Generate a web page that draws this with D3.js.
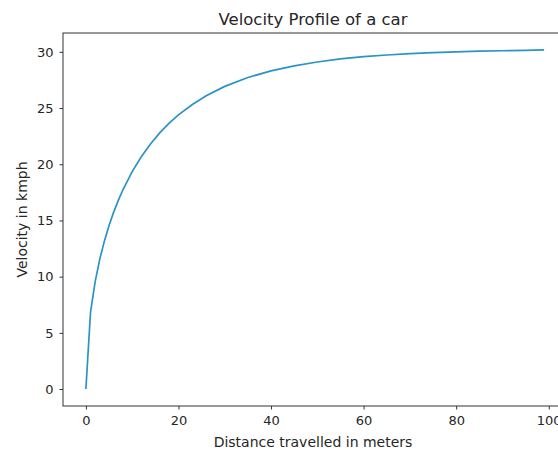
<!DOCTYPE html>
<html>
<head>
<meta charset="utf-8">
<script src="https://cdn.jsdelivr.net/npm/d3@7"></script>
<style>
	body { margin: 0; background: #fff; }
	text { font-family: "DejaVu Sans", sans-serif; fill: #262626; }
	.axis path, .axis line { stroke: #333; }
</style>
</head>
<body>
<div id="chart"></div>
<script>
// distance travelled (m) and velocity (kmph)
var distance = [0, 1, 2, 3, 4, 5, 6, 7, 8, 10, 12, 14, 16, 18, 20, 23, 26, 30, 35, 40,
	45, 50, 55, 60, 65, 70, 75, 80, 85, 90, 95, 99];
var velocity = [0, 6.85, 9.56, 11.56, 13.18, 14.55, 15.74, 16.79, 17.73, 19.34, 20.69, 21.83,
	22.81, 23.65, 24.39, 25.32, 26.09, 26.93, 27.72, 28.31, 28.76, 29.10, 29.37, 29.57,
	29.72, 29.84, 29.93, 30.00, 30.06, 30.10, 30.14, 30.17];
var xTicks = [0, 20, 40, 60, 80, 100];
var yTicks = [0, 5, 10, 15, 20, 25, 30];

var width = 558;
var height = 450;
var margin = {top: 33, right: -9, bottom: 44, left: 63};
var innerW = width - margin.left - margin.right;
var innerH = height - margin.top - margin.bottom;

var svg = d3.select('#chart')
	.append('svg')
	.attr('width', width)
	.attr('height', height);

var g = svg.append('g')
	.attr('transform', 'translate(' + margin.left + ',' + margin.top + ')');

// 5% padding like matplotlib
var xExt = d3.extent(distance);
var xPad = (xExt[1] - xExt[0]) * 0.05;
var yExt = d3.extent(velocity);
var yPad = (yExt[1] - yExt[0]) * 0.05;

var x = d3.scaleLinear()
	.domain([xExt[0] - xPad, xExt[1] + xPad])
	.range([0, innerW]);

var y = d3.scaleLinear()
	.domain([yExt[0] - yPad, yExt[1] + yPad])
	.range([innerH, 0]);

g.append('g')
	.attr('class', 'axis')
	.attr('transform', 'translate(0,' + innerH + ')')
	.call(d3.axisBottom(x).tickValues(xTicks).tickSize(3.5).tickPadding(6).tickFormat(d3.format('d')));

g.append('g')
	.attr('class', 'axis')
	.call(d3.axisLeft(y).tickValues(yTicks).tickSize(3.5).tickPadding(6).tickFormat(d3.format('d')));

g.selectAll('.axis text')
	.style('font-size', '13px')
	.attr('fill', '#262626');
g.selectAll('.axis .domain').remove();

// spines
g.append('rect')
	.attr('x', 0)
	.attr('y', 0)
	.attr('width', innerW)
	.attr('height', innerH)
	.attr('fill', 'none')
	.attr('stroke', '#333')
	.attr('stroke-width', 1);

var line = d3.line()
	.x(function(d, i){ return x(distance[i]); })
	.y(function(d){ return y(d); });

g.append('path')
	.datum(velocity)
	.attr('d', line)
	.attr('fill', 'none')
	.attr('stroke', '#2a93c7')
	.attr('stroke-width', 1.7);

svg.append('text')
	.attr('x', 313)
	.attr('y', 25)
	.attr('text-anchor', 'middle')
	.style('font-size', '16.5px')
	.text('Velocity Profile of a car');

svg.append('text')
	.attr('x', 313)
	.attr('y', 447)
	.attr('text-anchor', 'middle')
	.style('font-size', '14px')
	.text('Distance travelled in meters');

svg.append('text')
	.attr('transform', 'translate(27,' + (margin.top + innerH / 2) + ') rotate(-90)')
	.attr('text-anchor', 'middle')
	.style('font-size', '14px')
	.text('Velocity in kmph');
</script>
</body>
</html>
